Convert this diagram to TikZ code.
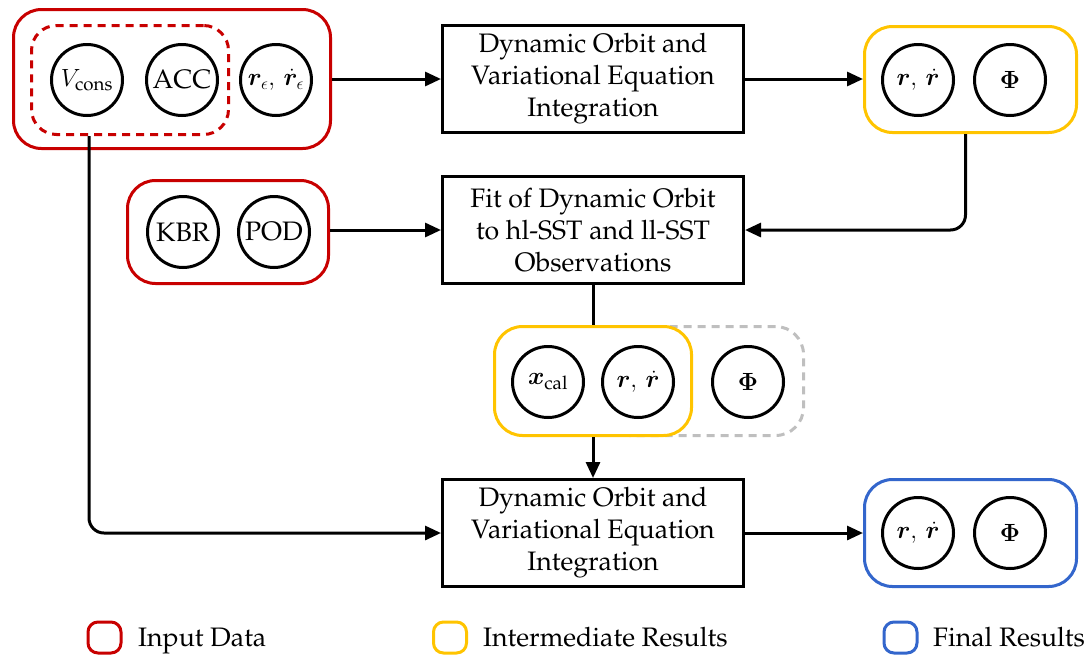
\documentclass[tikz,border=0pt]{standalone}
\usepackage[T1]{fontenc}
\usepackage{amsmath}
\usepackage{bm}
\renewcommand{\rmdefault}{ppl}
\usetikzlibrary{arrows.meta}
\definecolor{inred}{RGB}{200,0,0}
\definecolor{midyel}{RGB}{255,196,0}
\definecolor{finblue}{RGB}{51,102,204}
\definecolor{ghost}{RGB}{191,191,191}
\begin{document}
\begin{tikzpicture}[x=1pt,y=-1pt,
 every node/.style={font=\fontsize{26.7}{32}\selectfont},
 circ/.style={circle,draw,line width=3pt,minimum size=71pt,inner sep=0pt},
 proc/.style={draw,line width=3pt,minimum width=301pt,minimum height=107pt,align=center,inner sep=0pt},
 grp/.style={draw,line width=3pt,rounded corners=28pt,fill=white,inner sep=0pt},
 legbox/.style={draw,line width=3pt,rounded corners=10pt,minimum width=33pt,minimum height=31pt,inner sep=0pt},
 legtext/.style={anchor=base west,inner sep=0pt},
 conn/.style={line width=3pt,-{Triangle[length=16pt,width=14pt]}},
 link/.style={line width=3pt},
]
\useasboundingbox (0,0) rectangle (1091,659);

% group boxes
\node[grp,draw=inred,minimum width=317pt,minimum height=139pt] (in1) at (172,79) {};
\node[draw=inred,line width=3pt,dash pattern=on 8pt off 6pt,rounded corners=25pt,minimum width=197pt,minimum height=109pt,inner sep=0pt] (dsh) at (130,80) {};
\node[grp,draw=midyel,minimum width=212pt,minimum height=106pt] (yt) at (970.5,79.5) {};
\node[grp,draw=inred,minimum width=201pt,minimum height=103pt] (in2) at (228,232) {};
\node[draw=ghost,line width=3pt,dash pattern=on 8pt off 6pt,rounded corners=28pt,minimum width=202pt,minimum height=109pt,inner sep=0pt] (gy) at (702.5,381) {};
\node[grp,draw=midyel,minimum width=197pt,minimum height=109pt] (ym) at (593,381) {};
\node[grp,draw=finblue,minimum width=212pt,minimum height=107pt] (fb) at (970.5,533) {};

% circles
\node[circ] (vc) at (87,80) {$V_{\text{cons}}$};
\node[circ] (acc) at (182,80) {ACC};
\node[circ] (re) at (276,80) {$\bm{r}_{\epsilon},\,\dot{\bm{r}}_{\epsilon}$};
\node[circ] (r1) at (918,80) {$\bm{r},\,\dot{\bm{r}}$};
\node[circ] (p1) at (1010,80) {$\bm{\Phi}$};
\node[circ] (kbr) at (183,232) {KBR};
\node[circ] (pod) at (274,232) {POD};
\node[circ] (xc) at (548,382) {$\bm{x}_{\text{cal}}$};
\node[circ] (r2) at (638,382) {$\bm{r},\,\dot{\bm{r}}$};
\node[circ] (p2) at (748,382) {$\bm{\Phi}$};
\node[circ] (r3) at (918,533) {$\bm{r},\,\dot{\bm{r}}$};
\node[circ] (p3) at (1010,533) {$\bm{\Phi}$};

% process boxes
\node[proc] (b1) at (593,79) {Dynamic Orbit and\\Variational Equation\\Integration};
\node[proc] (b2) at (593,230) {Fit of Dynamic Orbit\\to hl-SST and ll-SST\\Observations};
\node[proc] (b3) at (593,533) {Dynamic Orbit and\\Variational Equation\\Integration};

% connectors
\draw[conn] (in1.east |- b1.west) -- (b1.west);
\draw[conn] (b1.east) -- (b1.east -| yt.west);
\draw[conn,rounded corners=15pt] ([xshift=-5pt]yt.south) |- (b2.east);
\draw[conn] (in2.east |- b2.west) -- (b2.west);
\draw[link] (b2.south) -- (b2.south |- ym.north);
\draw[conn] (ym.south) -- (ym.south |- b3.north);
\draw[conn] (b3.east) -- (b3.east -| fb.west);
\draw[conn,rounded corners=15pt] ([xshift=2pt]dsh.south -| vc) |- (b3.west);

% legend
\node[legbox,draw=inred] (l1) at (104.5,637.5) {};
\node[legtext] (t1) at (138,646) {Input Data};
\node[legbox,draw=midyel] (l2) at (450,637.5) {};
\node[legtext] (t2) at (483,646) {Intermediate Results};
\node[legbox,draw=finblue] (l3) at (900.5,637.5) {};
\node[legtext] (t3) at (933,646) {Final Results};
\end{tikzpicture}
\end{document}
